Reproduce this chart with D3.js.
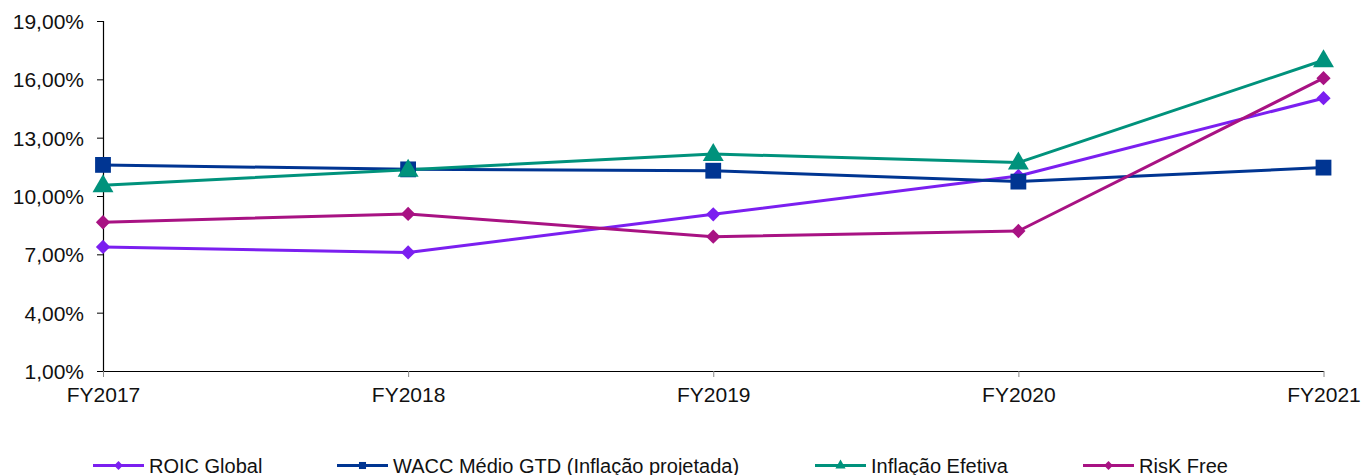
<!DOCTYPE html>
<html><head><meta charset="utf-8">
<script src="https://cdn.jsdelivr.net/npm/d3@7"></script>
<style>
html,body{margin:0;padding:0;background:#fff;}
svg{display:block;font-family:"Liberation Sans",Arial,sans-serif;}
</style></head>
<body>
<svg id="chart" width="1364" height="475"></svg>
<script>
const categories = ["FY2017","FY2018","FY2019","FY2020","FY2021"];
const roicGlobal = [7.38, 7.10, 9.06, 11.03, 15.03];
const waccMedio = [11.60, 11.37, 11.30, 10.74, 11.46];
const inflacaoEfetiva = [10.55, 11.35, 12.16, 11.72, 16.98];
const riskFree = [8.65, 9.08, 7.91, 8.20, 16.06];
const yTicks = [1, 4, 7, 10, 13, 16, 19];

const series = [
  {name:"ROIC Global", values:roicGlobal, color:"#7B1FF0", marker:"diamond"},
  {name:"WACC Médio GTD (Inflação projetada)", values:waccMedio, color:"#003592", marker:"square"},
  {name:"Inflação Efetiva", values:inflacaoEfetiva, color:"#00927C", marker:"triangle"},
  {name:"RisK Free", values:riskFree, color:"#A81283", marker:"diamond"}
];
const legendX = [93, 337, 815, 1083];

const svg = d3.select("#chart");
const x = d3.scalePoint().domain(categories).range([103, 1323.5]);
const y = d3.scaleLinear().domain([1, 19]).range([371, 21]);

// Y axis
const yAxis = d3.axisLeft(y).tickValues(yTicks).tickSize(6).tickPadding(13)
  .tickFormat(d => d3.format(".2f")(d).replace(".", ",") + "%");
const gy = svg.append("g").attr("transform","translate(103,0)").call(yAxis);
gy.select(".domain").attr("stroke","#000").attr("stroke-width",1.2);
gy.selectAll(".tick line").attr("stroke","#000");
gy.selectAll("text").attr("font-size",21).attr("fill","#111").attr("dy","0.36em");

// X axis
const xAxis = d3.axisBottom(x).tickSize(6).tickPadding(10).tickSizeOuter(0);
const gx = svg.append("g").attr("transform","translate(0,371)").call(xAxis);
gx.select(".domain").attr("stroke","#000").attr("stroke-width",1.2);
gx.selectAll(".tick line").attr("stroke","#888");
gx.selectAll("text").attr("font-size",21).attr("fill","#111");

function markerPath(type, size){
  if(type==="diamond") return d3.symbol().type(d3.symbolDiamond2).size(size)();
  if(type==="square") return d3.symbol().type(d3.symbolSquare).size(size)();
  return d3.symbol().type(d3.symbolTriangle).size(size)();
}
const markerSize = {diamond:130, square:250, triangle:190};
const legendMarkerSize = {diamond:50, square:50, triangle:45};

const line = d3.line().x((d,i)=>x(categories[i])).y(d=>y(d));

series.forEach(s => {
  svg.append("path").datum(s.values).attr("d", line)
    .attr("fill","none").attr("stroke", s.color).attr("stroke-width",3)
    .attr("stroke-linejoin","round");
});
series.forEach(s => {
  svg.append("g").selectAll("path").data(s.values).join("path")
    .attr("transform",(d,i)=>`translate(${x(categories[i])},${y(d) + (s.marker==="triangle"?1:0)})`)
    .attr("d", markerPath(s.marker, markerSize[s.marker]))
    .attr("fill", s.color);
});

// Legend
const lg = svg.append("g");
series.forEach((s,i) => {
  const lx = legendX[i], ly = 465.5;
  lg.append("line").attr("x1",lx).attr("x2",lx+51).attr("y1",ly).attr("y2",ly)
    .attr("stroke",s.color).attr("stroke-width",3);
  lg.append("path").attr("transform",`translate(${lx+25.5},${ly})`)
    .attr("d", markerPath(s.marker, legendMarkerSize[s.marker])).attr("fill",s.color);
  lg.append("text").attr("x",lx+56).attr("y",ly+7).attr("font-size",20)
    .attr("fill","#111").text(s.name);
});
</script>
</body></html>
